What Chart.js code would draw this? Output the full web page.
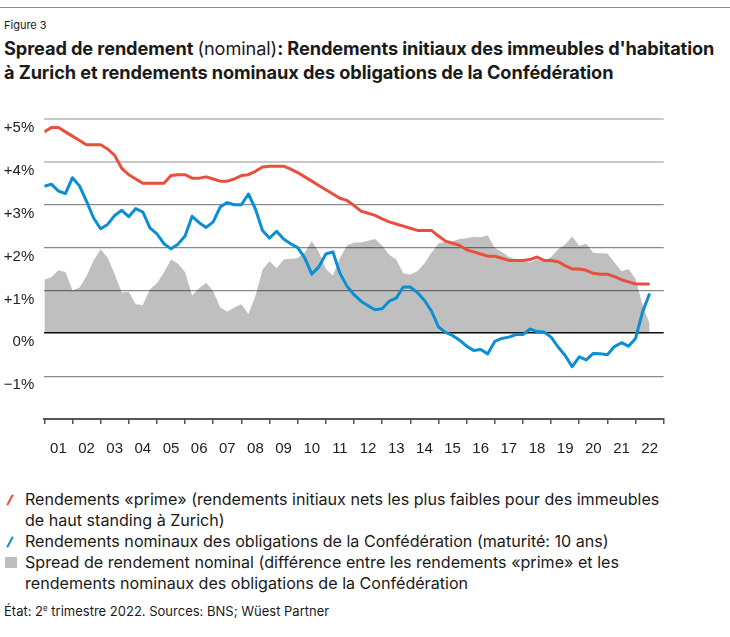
<!DOCTYPE html>
<html lang="fr">
<head>
<meta charset="utf-8">
<script src="https://cdn.jsdelivr.net/npm/chart.js@4.4.1/dist/chart.umd.min.js"></script>
<style>
  body { margin: 0; width: 730px; height: 637px; background: #fff; position: relative; overflow: hidden;
         font-family: Inter, "Liberation Sans", Arial, sans-serif; color: #1a1a1a; }
  .topline { position: absolute; left: 0; top: 7px; width: 730px; height: 1px; background: #8c8c8c; }
  .fig { position: absolute; left: 4px; top: 18px; font-size: 11px; line-height: 14px; }
  .title { position: absolute; left: 4px; top: 36px; font-size: 18.2px; line-height: 24px; font-weight: 700; white-space: nowrap; letter-spacing: -0.1px; }
  .title span { font-weight: normal; }
  #wrap { position: absolute; left: 0; top: 100px; width: 730px; height: 370px; }
  .legend { position: absolute; left: 0; top: 489px; font-size: 16.1px; line-height: 21px; white-space: nowrap; }
  .item { position: relative; padding-left: 25px; }
  .slash { position: absolute; left: 9px; top: 5px; width: 2.2px; height: 12px; transform: rotate(28deg); }
  .square { position: absolute; left: 5px; top: 5px; width: 12px; height: 11px; background: #bdbdbd; }
  .note { position: absolute; left: 4px; top: 601px; font-size: 13px; line-height: 15px; }
</style>
</head>
<body>
<div class="topline"></div>
<div class="fig">Figure 3</div>
<div class="title">Spread de rendement <span>(nominal)</span>: Rendements initiaux des immeubles d'habitation<br>à Zurich et rendements nominaux des obligations de la Confédération</div>
<div id="wrap"><canvas id="yieldChart" width="730" height="370"></canvas></div>
<div class="legend">
  <div class="item"><span class="slash" style="background:#e8503e"></span>Rendements «prime» (rendements initiaux nets les plus faibles pour des immeubles<br>de haut standing à Zurich)</div>
  <div class="item"><span class="slash" style="background:#0a8fd2"></span>Rendements nominaux des obligations de la Confédération (maturité: 10 ans)</div>
  <div class="item"><span class="square"></span>Spread de rendement nominal (différence entre les rendements «prime» et les<br>rendements nominaux des obligations de la Confédération</div>
</div>
<div class="note">État: 2<sup style="font-size:8px">e</sup> trimestre 2022. Sources: BNS; Wüest Partner</div>

<script>
// Données trimestrielles, de fin 2000 (T4) à 2022 T2
const firstYear = 2001;
const step = 0.25;

// Rendements «prime» (%)
const primeYield = [
  4.70, 4.80, 4.80, 4.70, 4.60, 4.50, 4.40, 4.40, 4.40, 4.30,
  4.15, 3.85, 3.70, 3.60, 3.50, 3.50, 3.50, 3.50, 3.68, 3.70,
  3.70, 3.62, 3.62, 3.65, 3.60, 3.55, 3.55, 3.60, 3.68, 3.70,
  3.78, 3.88, 3.90, 3.90, 3.90, 3.83, 3.75, 3.65, 3.55, 3.45,
  3.35, 3.25, 3.15, 3.10, 2.98, 2.85, 2.80, 2.75, 2.67, 2.60,
  2.55, 2.50, 2.45, 2.40, 2.40, 2.40, 2.27, 2.15, 2.10, 2.05,
  1.95, 1.90, 1.85, 1.80, 1.80, 1.75, 1.70, 1.70, 1.70, 1.72,
  1.78, 1.70, 1.70, 1.67, 1.58, 1.50, 1.50, 1.47, 1.40, 1.38,
  1.38, 1.32, 1.25, 1.20, 1.15, 1.15, 1.15
];

// Rendements nominaux des obligations de la Confédération, 10 ans (%)
const bondYield = [
  3.43, 3.48, 3.32, 3.26, 3.63, 3.44, 3.08, 2.69, 2.44, 2.54,
  2.75, 2.87, 2.72, 2.91, 2.83, 2.46, 2.32, 2.09, 1.97, 2.08,
  2.27, 2.73, 2.58, 2.47, 2.60, 2.95, 3.05, 3.00, 3.00, 3.25,
  2.90, 2.40, 2.22, 2.38, 2.20, 2.09, 2.00, 1.76, 1.38, 1.55,
  1.85, 1.90, 1.40, 1.10, 0.90, 0.75, 0.64, 0.55, 0.57, 0.75,
  0.82, 1.08, 1.08, 0.95, 0.77, 0.52, 0.15, 0.02, -0.05, -0.16,
  -0.30, -0.40, -0.38, -0.48, -0.19, -0.12, -0.09, -0.03, -0.03, 0.10,
  0.04, 0.03, -0.09, -0.32, -0.52, -0.78, -0.55, -0.62, -0.47, -0.48,
  -0.50, -0.31, -0.22, -0.30, -0.12, 0.50, 0.93
];

// Spread de rendement nominal (points de %)
const spread = [
  1.25, 1.31, 1.47, 1.43, 1.00, 1.07, 1.33, 1.70, 1.96, 1.76,
  1.38, 0.95, 0.97, 0.68, 0.66, 1.03, 1.17, 1.42, 1.72, 1.62,
  1.43, 0.88, 1.05, 1.18, 0.98, 0.60, 0.50, 0.60, 0.68, 0.45,
  0.87, 1.48, 1.68, 1.52, 1.72, 1.74, 1.75, 1.89, 2.15, 1.90,
  1.50, 1.35, 1.75, 2.05, 2.12, 2.12, 2.16, 2.20, 2.05, 1.83,
  1.72, 1.40, 1.37, 1.45, 1.63, 1.88, 2.10, 2.13, 2.15, 2.20,
  2.22, 2.25, 2.24, 2.29, 1.99, 1.90, 1.78, 1.72, 1.70, 1.65,
  1.73, 1.68, 1.78, 1.96, 2.08, 2.26, 2.04, 2.09, 1.88, 1.87,
  1.86, 1.66, 1.45, 1.50, 1.27, 0.66, 0.22
];

const yearLabels = ['01','02','03','04','05','06','07','08','09','10','11',
                    '12','13','14','15','16','17','18','19','20','21','22'];
const yValues = [-1, 0, 1, 2, 3, 4, 5];
const yLabels = ['\u22121%', '0%', '+1%', '+2%', '+3%', '+4%', '+5%'];

const RED = '#e8503e';
const BLUE = '#0a8fd2';
const FONT = '"Liberation Sans", Arial, sans-serif';

function toPoints(values) {
  return values.map((v, i) => ({ x: firstYear + i * step, y: v }));
}

const ctx = document.getElementById('yieldChart').getContext('2d');

const yieldChart = new Chart(ctx, {
  type: 'line',
  data: {
    datasets: [
      {
        label: 'Obligations de la Confédération',
        data: toPoints(bondYield),
        borderColor: BLUE,
        borderWidth: 3,
        borderJoinStyle: 'round',
        pointRadius: 0,
        tension: 0,
        fill: false,
        order: 1
      },
      {
        label: 'Rendements «prime»',
        data: toPoints(primeYield),
        borderColor: RED,
        borderWidth: 3,
        borderJoinStyle: 'round',
        pointRadius: 0,
        tension: 0,
        fill: false,
        order: 2
      },
      {
        label: 'Spread',
        data: toPoints(spread),
        borderWidth: 0,
        borderColor: 'rgba(0,0,0,0)',
        backgroundColor: 'rgba(0,0,0,0.25)',
        pointRadius: 0,
        tension: 0,
        fill: 'origin',
        order: 3
      }
    ]
  },
  options: {
    responsive: false,
    animation: false,
    layout: { padding: { left: 0, right: 66.3, top: 19, bottom: 0 } },
    plugins: {
      legend: { display: false },
      tooltip: { enabled: false }
    },
    scales: {
      x: {
        type: 'linear',
        min: 2001,
        max: 2023,
        afterFit: function(scale) { scale.height = 51; },
        ticks: {
          stepSize: 1,
          autoSkip: false,
          maxRotation: 0,
          labelOffset: 14.08,
          padding: 16,
          color: '#222',
          font: { family: FONT, size: 15 },
          callback: function(value, index) { return yearLabels[index] || ''; }
        },
        grid: {
          drawOnChartArea: false,
          drawTicks: true,
          tickLength: 5,
          color: '#555',
          lineWidth: 1.5
        },
        border: { color: '#555', width: 2 }
      },
      y: {
        min: -2,
        max: 5,
        afterFit: function(scale) { scale.width = 44.3; },
        ticks: {
          stepSize: 1,
          padding: 10,
          labelOffset: 9,
          color: '#222',
          font: { family: FONT, size: 15 },
          callback: function(value) {
            const k = yValues.indexOf(value);
            return k >= 0 ? yLabels[k] : '';
          }
        },
        grid: {
          drawTicks: false,
          color: function(c) {
            const v = c.tick.value;
            if (v === -2) return 'rgba(0,0,0,0)';
            if (v === 0) return '#111';
            if (v >= 4) return '#c8c8c8';
            return '#8a8a8a';
          },
          lineWidth: function(c) {
            const v = c.tick.value;
            if (v === 0) return 1.6;
            if (v >= 4) return 2;
            return 1.2;
          }
        },
        border: { display: false }
      }
    }
  }
});
</script>
</body>
</html>
